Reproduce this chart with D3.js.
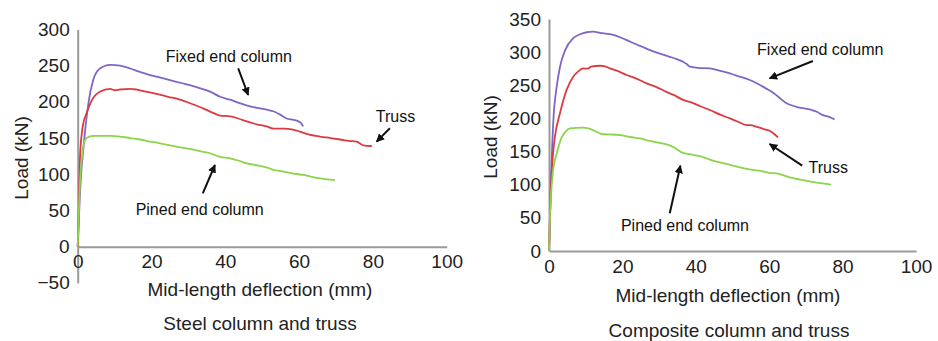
<!DOCTYPE html>
<html>
<head>
<meta charset="utf-8">
<script src="https://cdn.jsdelivr.net/npm/d3@7"></script>
<style>
  body { margin: 0; background: #fff; }
  svg { display: block; font-family: "Liberation Sans", Arial, sans-serif; }
</style>
</head>
<body>
<div class="graph"></div>
<script>
// Steel column and truss: [deflection (mm), load (kN)]
const steelFixed = [[0,0],[0.5,60],[1,105],[1.5,133],[2,160],[2.9,198],[4.2,230],[6,246],[8.8,251],[11.5,250],[14.2,246],[17,241],[19.6,237],[22,234],[25,230],[28,226],[30.4,223],[33,219],[35.9,214],[38.6,207],[41.3,203],[44,198],[46.5,194],[49.4,191],[51.5,189],[53,187],[55,182],[56.6,177],[58.5,175],[59.8,173],[60.5,171],[61.1,166]];
const steelTruss = [[0,0],[0.3,50],[0.6,120],[1.1,156],[1.5,170],[2.4,184],[3.8,202],[6,214],[8.8,218],[10,216],[11.5,217],[14.2,218],[16,217],[18.5,214],[21.4,211],[24.5,207],[27.7,203],[31,197],[34,191],[37,184],[38.6,181],[41.3,180],[43.5,177],[45.8,173],[48.5,169],[51.2,166],[53,163],[56,163],[58,162],[60.2,159],[62.5,155],[65.7,152],[68.5,150],[71.1,148],[73.5,146],[75.6,145],[77.4,140],[79.7,139]];
const steelPined = [[0,0],[0.4,60],[0.8,105],[1.1,120],[1.5,138],[2.4,150],[4.2,153],[8.8,153],[11.5,152],[14.2,150],[17,148],[19.6,145],[22,143],[25,140],[27.7,137],[30.4,135],[33,132],[35.9,129],[38.6,124],[41.3,122],[43.5,119],[45.8,115],[49,112],[52.1,108],[53,106],[55.5,104],[58.4,101],[61.1,99],[64.8,95],[67.5,93],[69.7,92]];

// Composite column and truss
const compFixed = [[0,0],[0.5,100],[1.2,198],[2.1,248],[3,278],[4.4,303],[6.6,321],[8.5,327],[10.3,330],[12.1,331],[13.9,329],[17.5,326],[20,321],[22,316],[25,309],[27.5,303],[30,298],[32.9,293],[35,289],[36.5,285.5],[37.5,282],[38.4,278],[41.1,276],[43.8,275.5],[46.5,272],[49.3,268],[52,263],[54.7,258],[57,252],[59.2,245],[60.8,240],[62.4,233],[64.7,223],[67.4,217.6],[71,213.7],[73,210],[74.6,205],[76.5,202],[77.8,198.6]];
const compTruss = [[0,0],[0.5,90],[1,140],[1.6,172],[3,208],[4.8,243],[6.6,263],[8,271],[9.3,275.5],[10.5,275],[11.5,278],[13.9,279.5],[15,279],[16.6,275.5],[19,271],[21.1,265.5],[23,262],[26.6,253],[29,248],[32,240],[34.5,234],[36.5,228],[38.4,225],[41.1,218.7],[43.8,212.7],[46.5,206],[49.3,200],[51.5,195],[53.8,190],[55,190],[56.5,187.5],[58.5,184],[60.1,181.5],[61.3,177],[62.4,171.5]];
const compPined = [[0,0],[0.3,60],[0.7,97],[1.2,125],[2.1,147],[3.5,172],[4.5,180],[5.7,185],[9.3,186],[12,182.5],[14.3,176.5],[16,176],[19.3,175],[22,172],[24.8,170],[27.5,166],[30.2,163],[32.5,160],[33.8,157],[36.5,148],[38.4,146],[41.1,143],[43.8,138],[49.3,130],[54.7,123],[58.3,120],[60.1,118],[62,117],[65.6,111],[71,105],[76.9,100]];

// Tick labels
const xTicks = [0, 20, 40, 60, 80, 100];
const steelYTicks = [-50, 0, 50, 100, 150, 200, 250, 300];
const compYTicks = [0, 50, 100, 150, 200, 250, 300, 350];

// Annotations: label [x, y], arrow from [x, y] to [x, y] (data units)
const steelNotes = [
  { text: 'Fixed end column', at: [23.85, 263], from: [43.5, 246.3], to: [46.2, 209.4] },
  { text: 'Truss', at: [80.8, 180.5], from: [84.6, 163.5], to: [81, 145] },
  { text: 'Pined end column', at: [15.7, 52], from: [33.9, 73.7], to: [37.2, 112.8] }
];
const compNotes = [
  { text: 'Fixed end column', at: [56.7, 304.7], from: [71.9, 286.6], to: [60.1, 260.5] },
  { text: 'Truss', at: [70.7, 127], from: [69, 128.7], to: [60.1, 161.4] },
  { text: 'Pined end column', at: [19.6, 38.8], from: [32.9, 56.9], to: [35.8, 128.7] }
];

const colors = { fixed: '#8066c4', truss: '#dc3a40', pined: '#8cd44c' };

const svg = d3.select('.graph')
  .append('svg')
  .attr('width', 938)
  .attr('height', 341);

svg.append('defs').append('marker')
  .attr('id', 'arrow')
  .attr('viewBox', '0 0 10 10')
  .attr('refX', 9)
  .attr('refY', 5)
  .attr('markerWidth', 4.2)
  .attr('markerHeight', 4.2)
  .attr('orient', 'auto')
  .append('path')
  .attr('d', 'M0,0L10,5L0,10z')
  .attr('fill', '#111');

function drawChart(opts) {
  const x = d3.scaleLinear().domain([0, 100]).range(opts.xRange);
  const y = d3.scaleLinear().domain(opts.yDomain).range(opts.yRange);
  const g = svg.append('g');

  // Axes
  const yAxis = g.append('g')
    .attr('transform', `translate(${x(0)},0)`)
    .call(d3.axisLeft(y).tickValues(opts.yTicks).tickSize(0).tickPadding(8)
      .tickFormat(d => d < 0 ? '\u2212' + Math.abs(d) : d));
  const xAxis = g.append('g')
    .attr('transform', `translate(0,${y(0)})`)
    .call(d3.axisBottom(x).tickValues(xTicks).tickSize(0).tickPadding(opts.xPad));

  [xAxis, yAxis].forEach(a => {
    a.select('.domain').attr('stroke', '#9a9a9a').attr('stroke-width', 2);
    a.selectAll('text').attr('font-size', '19px').attr('fill', '#222')
      .style('font-family', '"Liberation Sans", Arial, sans-serif');
  });

  // Curves
  const line = d3.line().x(d => x(d[0])).y(d => y(d[1])).curve(d3.curveMonotoneX);
  opts.series.forEach(s => {
    g.append('path')
      .datum(s.data)
      .attr('fill', 'none')
      .attr('stroke', s.color)
      .attr('stroke-width', 1.8)
      .attr('stroke-linejoin', 'round')
      .attr('d', line);
  });

  // Annotations
  opts.notes.forEach(n => {
    g.append('text')
      .attr('x', x(n.at[0]))
      .attr('y', y(n.at[1]))
      .attr('dy', '0.36em')
      .attr('font-size', '16px')
      .attr('fill', '#111')
      .text(n.text);
    g.append('line')
      .attr('x1', x(n.from[0])).attr('y1', y(n.from[1]))
      .attr('x2', x(n.to[0])).attr('y2', y(n.to[1]))
      .attr('stroke', '#111')
      .attr('stroke-width', 2)
      .attr('marker-end', 'url(#arrow)');
  });

  // Titles
  g.append('text')
    .attr('transform', `translate(${opts.yTitle[0]},${opts.yTitle[1]}) rotate(-90)`)
    .attr('text-anchor', 'middle')
    .attr('dy', '0.35em')
    .attr('font-size', '19px')
    .attr('fill', '#222')
    .text('Load (kN)');
  g.append('text')
    .attr('x', opts.xTitle[0]).attr('y', opts.xTitle[1])
    .attr('text-anchor', 'middle')
    .attr('dy', '0.35em')
    .attr('font-size', '19px')
    .attr('fill', '#222')
    .text('Mid-length deflection (mm)');
  g.append('text')
    .attr('x', opts.caption[0]).attr('y', opts.caption[1])
    .attr('text-anchor', 'middle')
    .attr('dy', '0.35em')
    .attr('font-size', '19px')
    .attr('fill', '#222')
    .text(opts.captionText);
}

drawChart({
  xRange: [77.7, 446.7],
  yDomain: [-50, 300],
  yRange: [282.9, 29.4],
  yTicks: steelYTicks,
  xPad: 8,
  series: [
    { data: steelFixed, color: colors.fixed },
    { data: steelTruss, color: colors.truss },
    { data: steelPined, color: colors.pined }
  ],
  notes: steelNotes,
  yTitle: [21, 158],
  xTitle: [260, 289],
  caption: [260, 323],
  captionText: 'Steel column and truss'
});

drawChart({
  xRange: [549, 916],
  yDomain: [0, 350],
  yRange: [251, 19],
  yTicks: compYTicks,
  xPad: 9,
  series: [
    { data: compFixed, color: colors.fixed },
    { data: compTruss, color: colors.truss },
    { data: compPined, color: colors.pined }
  ],
  notes: compNotes,
  yTitle: [490, 137],
  xTitle: [728, 295],
  caption: [729, 330],
  captionText: 'Composite column and truss'
});
</script>
</body>
</html>
